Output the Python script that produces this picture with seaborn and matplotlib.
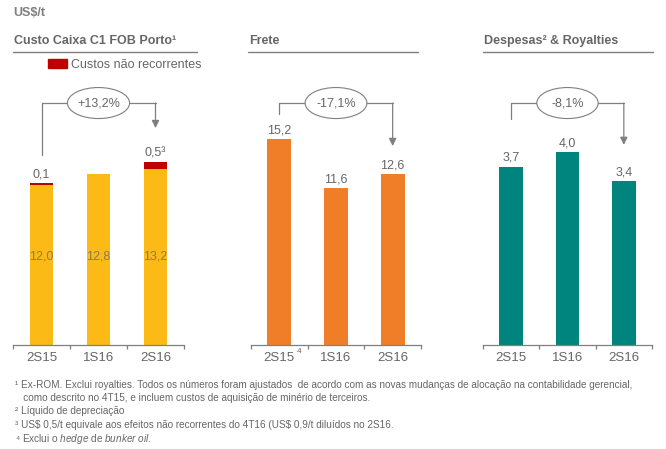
import matplotlib
matplotlib.use('Agg')
import matplotlib.pyplot as plt
import matplotlib.transforms as mtransforms
from matplotlib.lines import Line2D
from matplotlib.patches import Ellipse, Patch
import seaborn as sns

# data
periods = ['2S15', '1S16', '2S16']
c1_cost = [12.0, 12.8, 13.2]
c1_nonrec = [0.1, 0.0, 0.5]
freight = [15.2, 11.6, 12.6]
expenses = [3.7, 4.0, 3.4]
changes = ['+13,2%', '-17,1%', '-8,1%']
titles = ['Custo Caixa C1 FOB Porto¹', 'Frete', 'Despesas² & Royalties']
footnotes = [
    '¹ Ex-ROM. Exclui royalties. Todos os números foram ajustados  de acordo com as novas mudanças de alocação na contabilidade gerencial,',
    '   como descrito no 4T15, e incluem custos de aquisição de minério de terceiros.',
    '² Líquido de depreciação',
    '³ US$ 0,5/t equivale aos efeitos não recorrentes do 4T16 (US$ 0,9/t diluídos no 2S16.',
    r'⁴ Exclui o $\it{hedge}$ de $\it{bunker\ oil}$.',
]

YELLOW = '#FBBA16'
RED = '#C00000'
ORANGE = '#F07E28'
TEAL = '#00857E'
GRAY = '#7F7F7F'
TEXT = '#666666'
INNER = '#8F7B50'

sns.set_style('white')
plt.rcParams['font.family'] = ['Liberation Sans', 'DejaVu Sans']
plt.rcParams['mathtext.fontset'] = 'custom'
plt.rcParams['mathtext.rm'] = 'Liberation Sans'
plt.rcParams['mathtext.it'] = 'Liberation Sans:italic'

W, H = 666, 449
fig = plt.figure(figsize=(W / 100, H / 100), dpi=100)


def fmt(v):
    return f'{v:.1f}'.replace('.', ',')


def make_axes(x0, x1, y_top=60, y_bot=345):
    return fig.add_axes([x0 / W, 1 - y_bot / H, (x1 - x0) / W, (y_bot - y_top) / H])


def style_axes(ax, ytop):
    ax.set_xlim(-0.5, 2.5)
    ax.set_ylim(0, ytop)
    ax.set_xlabel('')
    ax.set_ylabel('')
    ax.set_yticks([])
    for s in ['top', 'left', 'right']:
        ax.spines[s].set_visible(False)
    ax.spines['bottom'].set_color(GRAY)
    ax.spines['bottom'].set_linewidth(0.9)
    ax.set_xticks([0, 1, 2])
    ax.set_xticklabels(periods)
    ax.set_xticks([-0.5, 0.5, 1.5, 2.5], minor=True)
    ax.tick_params(axis='x', which='major', length=0, pad=5, labelsize=9.5, labelcolor=TEXT)
    ax.tick_params(axis='x', which='minor', length=3, width=0.9, color=GRAY, direction='out', bottom=True)
    ax.set_facecolor('none')


def top_labels(ax, tops, texts):
    for i, (t, s) in enumerate(zip(tops, texts)):
        ax.annotate(s, xy=(i, t), xytext=(0, 2), textcoords='offset points',
                    ha='center', va='bottom', fontsize=9, color=TEXT)


def bracket(ax, text, y_left, y_tip, y_br=0.849):
    tr = mtransforms.blended_transform_factory(ax.transData, ax.transAxes)
    ax.plot([0, 0, 2], [y_left, y_br, y_br], color=GRAY, lw=0.9, transform=tr, clip_on=False)
    ax.annotate('', xy=(2, y_tip), xytext=(2, y_br), xycoords=tr, textcoords=tr,
                arrowprops=dict(arrowstyle='-|>,head_length=0.45,head_width=0.22',
                                color=GRAY, lw=0.9, shrinkA=0, shrinkB=0))
    ax.add_patch(Ellipse((1, y_br), width=1.09, height=31 / 285, transform=tr,
                         facecolor='white', edgecolor=GRAY, lw=0.8, zorder=3, clip_on=False))
    ax.text(1, y_br, text, transform=tr, ha='center', va='center', fontsize=9,
            color=TEXT, zorder=4)


# panel 1: C1 cash cost, stacked with non-recurring costs
ax1 = make_axes(13, 184)
totals = [a + b for a, b in zip(c1_cost, c1_nonrec)]
sns.barplot(x=periods, y=totals, color=RED, width=0.42, saturation=1, linewidth=0, ax=ax1)
sns.barplot(x=periods, y=c1_cost, color=YELLOW, width=0.42, saturation=1, linewidth=0, ax=ax1)
style_axes(ax1, 21.35)
tr1 = mtransforms.blended_transform_factory(ax1.transData, ax1.transAxes)
for i, v in enumerate(c1_cost):
    ax1.text(i, 0.31, fmt(v), transform=tr1, ha='center', va='center', fontsize=9, color=INNER)
for i, nr in enumerate(c1_nonrec):
    if nr > 0:
        lab = fmt(nr) + ('³' if i == 2 else '')
        ax1.annotate(lab, xy=(i, totals[i]), xytext=(0, 2), textcoords='offset points',
                     ha='center', va='bottom', fontsize=9, color=TEXT)
bracket(ax1, changes[0], 0.667, 0.761)
ax1.legend(handles=[Patch(color=RED, label='Custos não recorrentes')], frameon=False,
           loc='center left', bbox_to_anchor=(48 / W, 1 - 65 / H), bbox_transform=fig.transFigure,
           borderpad=0, borderaxespad=0, handlelength=1.5, handleheight=0.7,
           handletextpad=0.35, fontsize=9, labelcolor=TEXT)

# panel 2: freight
ax2 = make_axes(251, 421)
sns.barplot(x=periods, y=freight, color=ORANGE, width=0.42, saturation=1, linewidth=0, ax=ax2)
style_axes(ax2, 21.03)
top_labels(ax2, freight, [fmt(v) for v in freight])
bracket(ax2, changes[1], 0.811, 0.698)
tr2 = mtransforms.blended_transform_factory(ax2.transData, ax2.transAxes)
ax2.annotate('4', xy=(0, 0), xycoords=tr2, xytext=(14, -5), textcoords='offset points',
             ha='center', va='center', fontsize=6, color=TEXT)

# panel 3: expenses & royalties
ax3 = make_axes(483, 652)
sns.barplot(x=periods, y=expenses, color=TEAL, width=0.42, saturation=1, linewidth=0, ax=ax3)
style_axes(ax3, 5.91)
top_labels(ax3, expenses, [fmt(v) for v in expenses])
bracket(ax3, changes[2], 0.793, 0.702)

# header texts and underlines
fig.text(13 / W, 1 - 13 / H, 'US$/t', fontsize=9, fontweight='bold', color=GRAY,
         va='center', parse_math=False)
for x0, x1, t in zip([13, 248, 483], [197, 418, 653], titles):
    fig.text((x0 + 1) / W, 1 - 41 / H, t, fontsize=9, fontweight='bold', color=TEXT, va='center')
    fig.add_artist(Line2D([x0 / W, x1 / W], [1 - 52 / H] * 2, color=GRAY, lw=1))

# footnotes
for i, (y, line) in enumerate(zip([385, 398, 411, 425, 439], footnotes)):
    fig.text(15 / W, 1 - y / H, line, fontsize=7.2, color=TEXT, va='center',
             parse_math=(i == 4))

fig.savefig('out.png', dpi=100)
